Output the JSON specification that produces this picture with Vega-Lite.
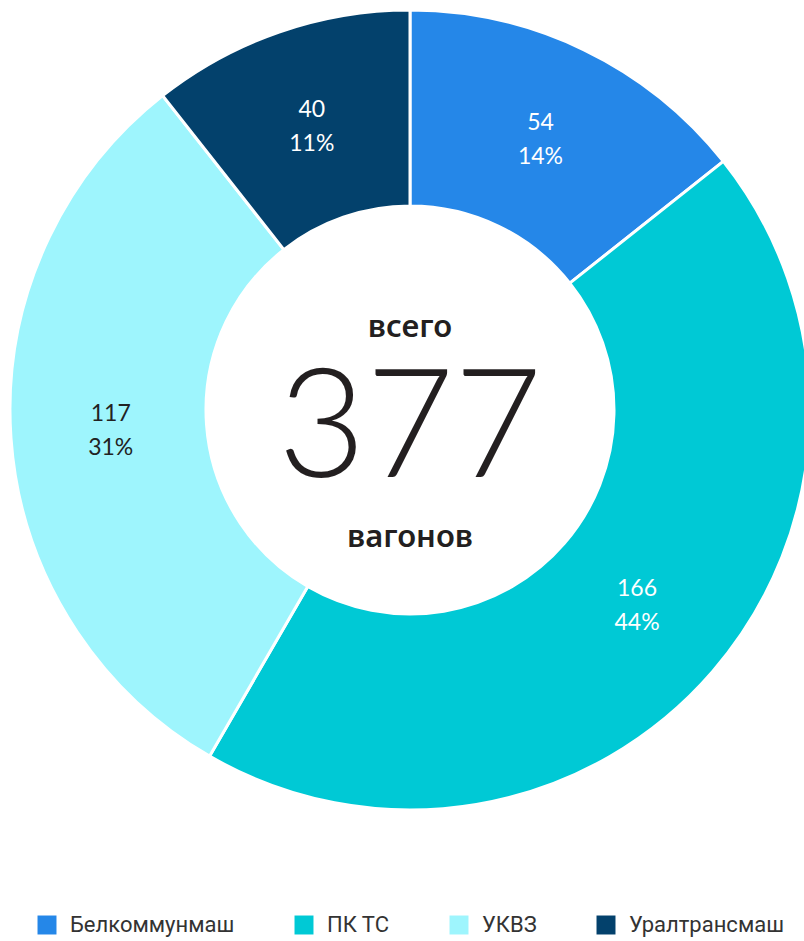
{
  "$schema": "https://vega.github.io/schema/vega-lite/v6.json",
  "width": 820,
  "height": 820,
  "autosize": {"type": "none"},
  "padding": {"left": 0, "top": 0, "right": -16, "bottom": 121},
  "background": "white",
  "config": {"view": {"stroke": null}},
  "data": {
    "values": [
      {"name": "Белкоммунмаш", "value": 54, "pct": "14%", "order": 1},
      {"name": "ПК ТС", "value": 166, "pct": "44%", "order": 2},
      {"name": "УКВЗ", "value": 117, "pct": "31%", "order": 3},
      {"name": "Уралтрансмаш", "value": 40, "pct": "11%", "order": 4}
    ]
  },
  "encoding": {
    "theta": {"field": "value", "type": "quantitative", "stack": true},
    "order": {"field": "order", "type": "quantitative"}
  },
  "layer": [
    {
      "mark": {"type": "arc", "outerRadius": 400, "innerRadius": 204, "stroke": "white", "strokeWidth": 3},
      "encoding": {
        "color": {
          "field": "name",
          "type": "nominal",
          "sort": ["Белкоммунмаш", "ПК ТС", "УКВЗ", "Уралтрансмаш"],
          "scale": {
            "domain": ["Белкоммунмаш", "ПК ТС", "УКВЗ", "Уралтрансмаш"],
            "range": ["#2587E8", "#00C9D5", "#9EF5FD", "#03416C"]
          },
          "legend": {
            "title": null,
            "orient": "none",
            "direction": "horizontal",
            "legendX": 36,
            "legendY": 914,
            "symbolType": "square",
            "symbolSize": 360,
            "symbolStrokeWidth": 0,
            "symbolOpacity": 1,
            "labelFont": "Roboto",
            "labelFontSize": 22,
            "labelColor": "#333333",
            "labelOffset": 12,
            "columnPadding": 58,
            "labelLimit": 300
          }
        }
      }
    },
    {
      "mark": {"type": "text", "radius": 300, "dy": -17, "font": "Lato", "fontSize": 23, "fontWeight": 400},
      "encoding": {
        "text": {"field": "value", "type": "quantitative"},
        "color": {"condition": {"test": "datum.name === 'УКВЗ'", "value": "#222222"}, "value": "white"}
      }
    },
    {
      "mark": {"type": "text", "radius": 300, "dy": 17, "font": "Lato", "fontSize": 23, "fontWeight": 400},
      "encoding": {
        "text": {"field": "pct", "type": "nominal"},
        "color": {"condition": {"test": "datum.name === 'УКВЗ'", "value": "#222222"}, "value": "white"}
      }
    },
    {
      "data": {"values": [{"t": "всего"}]},
      "mark": {"type": "text", "baseline": "alphabetic", "dy": -73, "font": "Noto Sans", "fontSize": 31, "fontWeight": 600, "color": "#231f20"},
      "encoding": {"text": {"field": "t", "type": "nominal"}, "theta": null, "order": null}
    },
    {
      "data": {"values": [{"t": "377"}]},
      "mark": {"type": "text", "baseline": "alphabetic", "dy": 67, "font": "Lato", "fontSize": 152, "fontWeight": 300, "color": "#231f20"},
      "encoding": {"text": {"field": "t", "type": "nominal"}, "theta": null, "order": null}
    },
    {
      "data": {"values": [{"t": "вагонов"}]},
      "mark": {"type": "text", "baseline": "alphabetic", "dy": 137, "font": "Noto Sans", "fontSize": 31, "fontWeight": 600, "color": "#231f20"},
      "encoding": {"text": {"field": "t", "type": "nominal"}, "theta": null, "order": null}
    }
  ]
}
